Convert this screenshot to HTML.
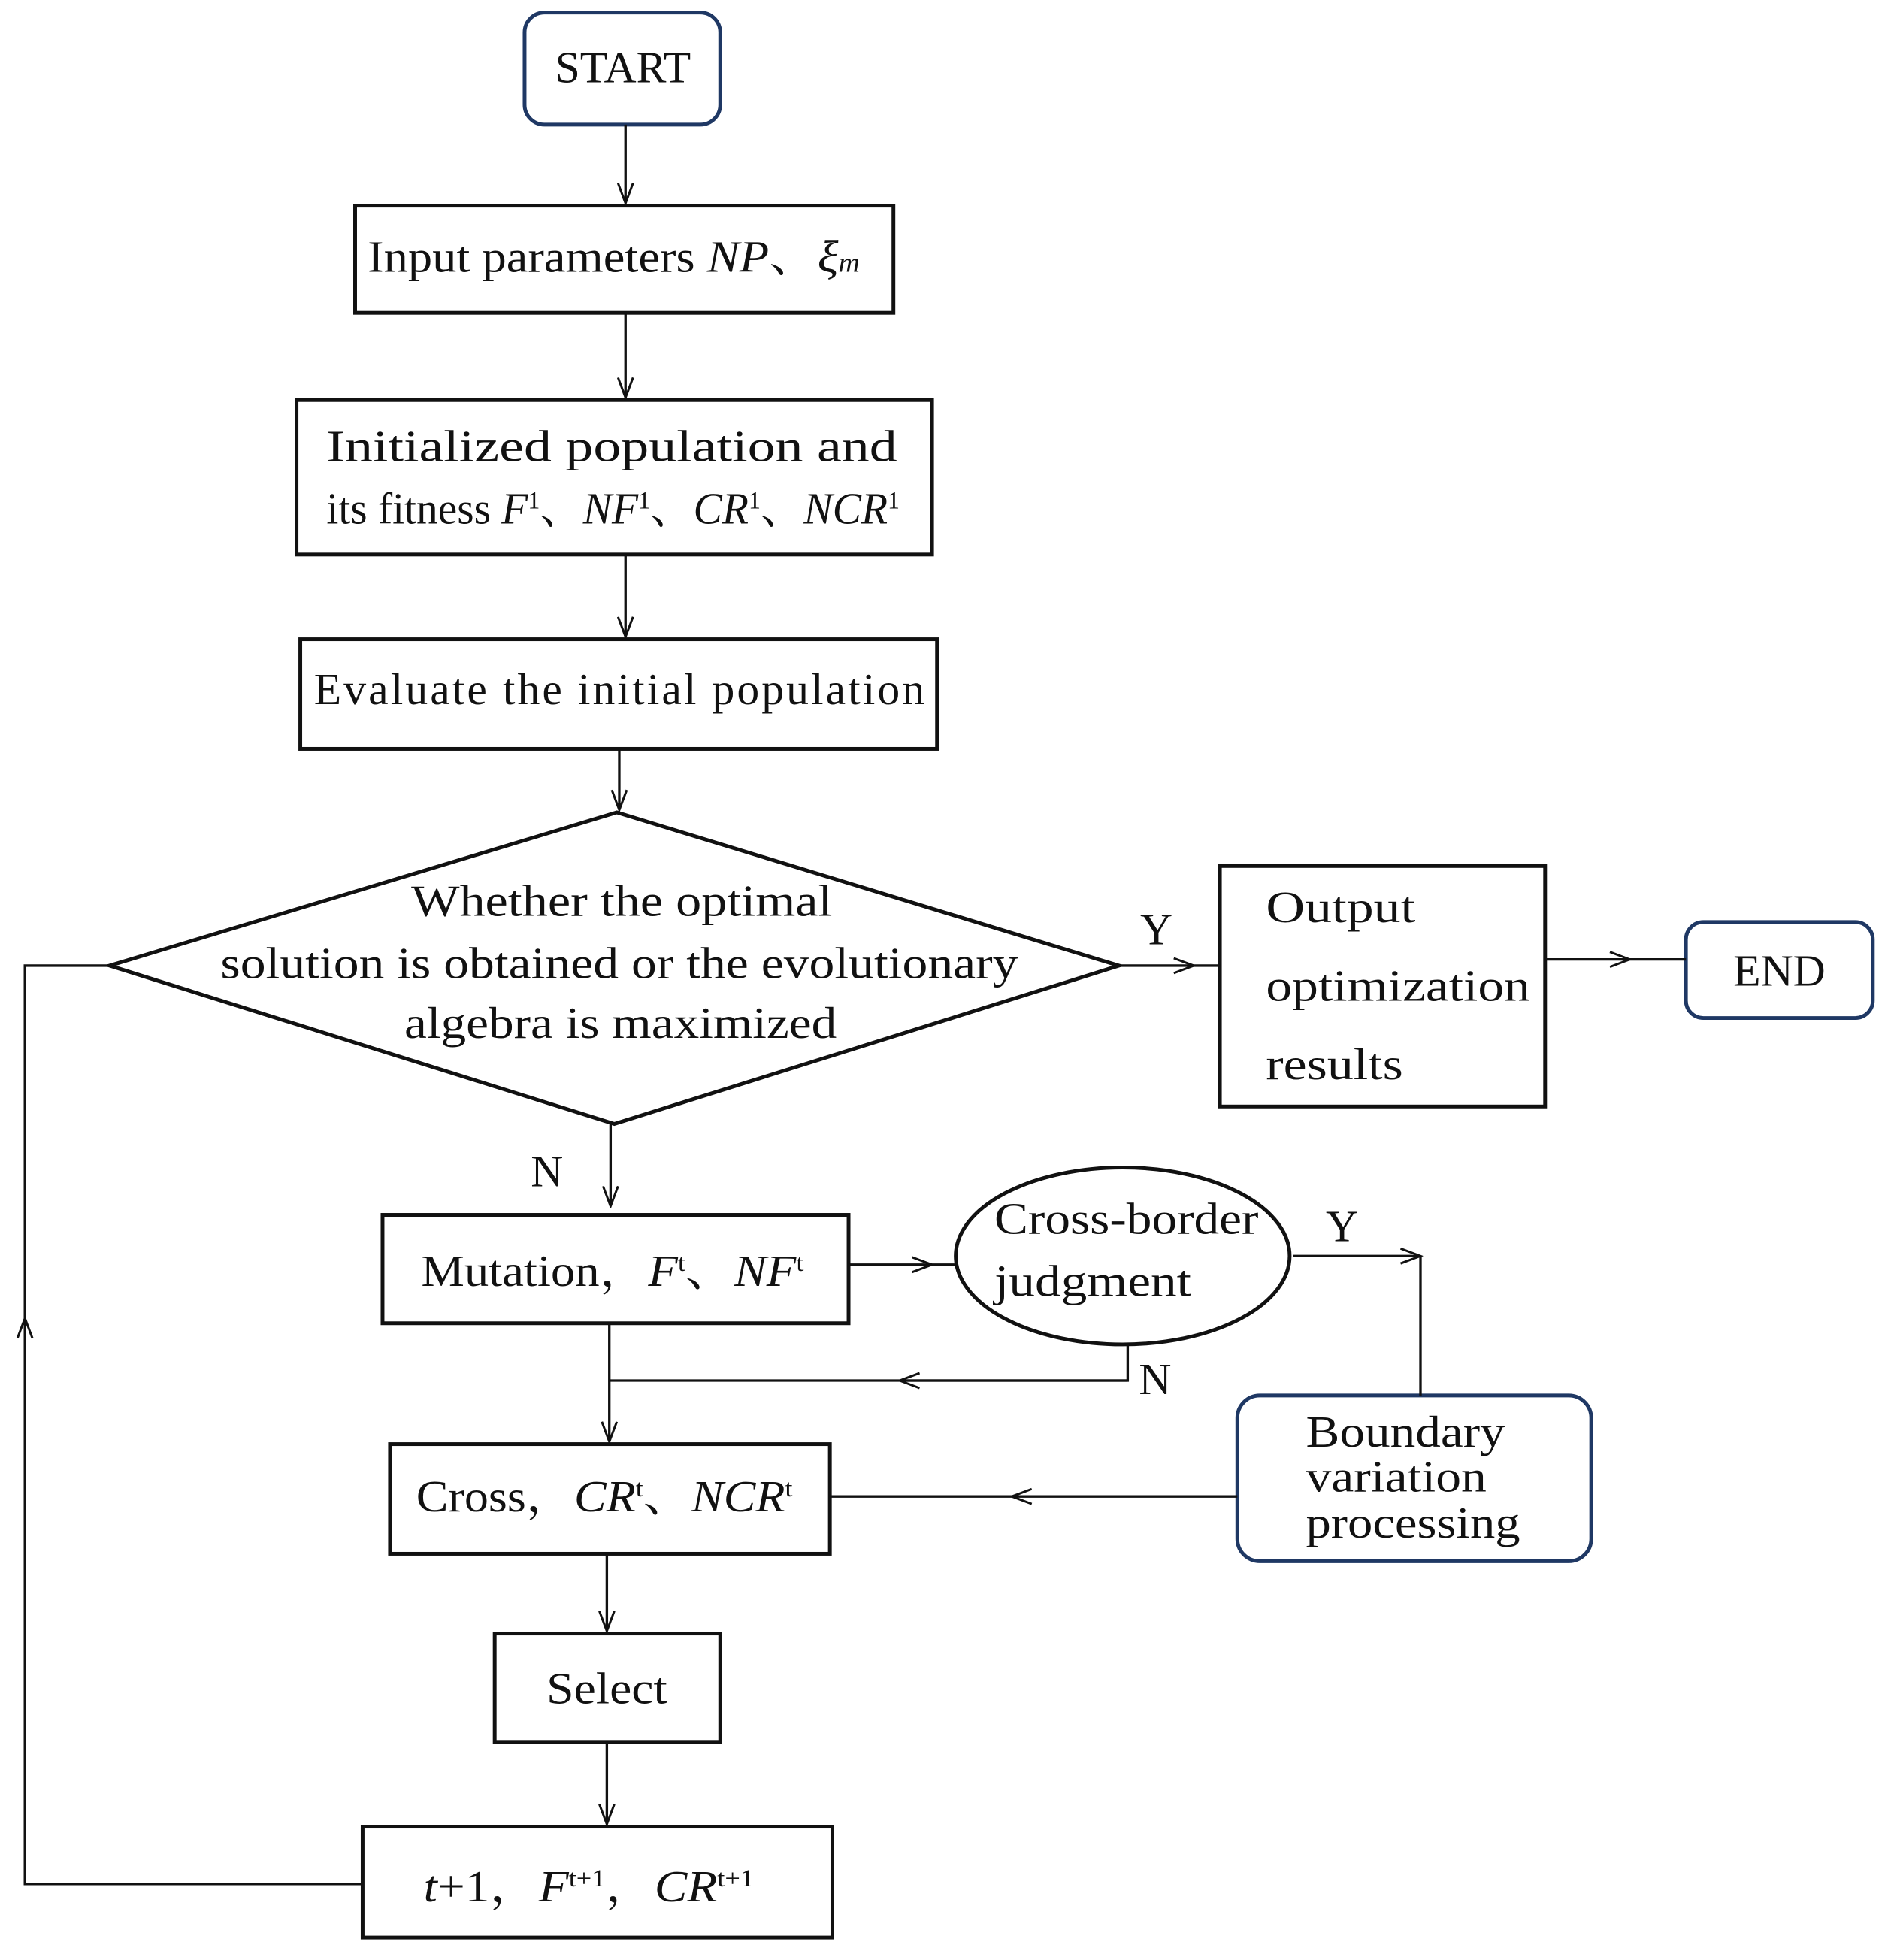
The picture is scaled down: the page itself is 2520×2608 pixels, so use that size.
<!DOCTYPE html>
<html><head><meta charset="utf-8"><style>
html,body{margin:0;padding:0;background:#fff;}
svg{display:block;}
text{font-family:"Liberation Serif","Noto Serif CJK SC",serif;fill:#111;}
</style></head><body>
<svg width="2520" height="2608" viewBox="0 0 1520 1573" xmlns="http://www.w3.org/2000/svg">
<defs>
<marker id="a" markerWidth="20" markerHeight="14" refX="18" refY="7" orient="auto" markerUnits="userSpaceOnUse">
<path d="M2,1 L18,7 L2,13" fill="none" stroke="#111" stroke-width="1.8"/>
</marker>
</defs>
<g fill="none" stroke="#111" stroke-width="3">
<rect x="421" y="10" width="157" height="90" rx="16" stroke="#1f3864"/>
<rect x="285" y="165" width="432" height="86"/>
<rect x="238" y="321" width="510" height="124"/>
<rect x="241" y="513" width="511" height="88"/>
<polygon points="88,775 495,652 898,775 493,902"/>
<rect x="979" y="695" width="261" height="193"/>
<rect x="1353" y="740" width="150" height="77" rx="14" stroke="#1f3864"/>
<rect x="307" y="975" width="374" height="87"/>
<ellipse cx="901" cy="1008" rx="134" ry="71"/>
<rect x="993" y="1120" width="284" height="133" rx="18" stroke="#1f3864"/>
<rect x="313" y="1159" width="353" height="88"/>
<rect x="397" y="1311" width="181" height="87"/>
<rect x="291" y="1466" width="377" height="89"/>
</g>
<g fill="none" stroke="#111" stroke-width="2">
<line x1="502" y1="100" x2="502" y2="163" marker-end="url(#a)"/>
<line x1="502" y1="251" x2="502" y2="319" marker-end="url(#a)"/>
<line x1="502" y1="445" x2="502" y2="511" marker-end="url(#a)"/>
<line x1="497" y1="601" x2="497" y2="650" marker-end="url(#a)"/>
<line x1="898" y1="775" x2="958" y2="775" marker-end="url(#a)"/>
<line x1="958" y1="775" x2="979" y2="775"/>
<line x1="1240" y1="770" x2="1308" y2="770" marker-end="url(#a)"/>
<line x1="1308" y1="770" x2="1353" y2="770"/>
<polyline points="291,1512 20,1512 20,775 88,775"/>
<line x1="20" y1="1200" x2="20" y2="1058" marker-end="url(#a)"/>
<line x1="490" y1="902" x2="490" y2="968" marker-end="url(#a)"/>
<line x1="681" y1="1015" x2="748" y2="1015" marker-end="url(#a)"/>
<line x1="748" y1="1015" x2="767" y2="1015"/>
<line x1="1038" y1="1008" x2="1140" y2="1008" marker-end="url(#a)"/>
<line x1="1140" y1="1008" x2="1140" y2="1120"/>
<polyline points="905,1079 905,1108 489,1108"/>
<line x1="905" y1="1108" x2="722" y2="1108" marker-end="url(#a)"/>
<line x1="489" y1="1062" x2="489" y2="1157" marker-end="url(#a)"/>
<line x1="993" y1="1201" x2="812" y2="1201" marker-end="url(#a)"/>
<line x1="812" y1="1201" x2="666" y2="1201"/>
<line x1="487" y1="1247" x2="487" y2="1309" marker-end="url(#a)"/>
<line x1="487" y1="1398" x2="487" y2="1464" marker-end="url(#a)"/>
</g>
<g font-size="36">
<text x="500" y="66" text-anchor="middle">START</text>
<text x="295" y="218" textLength="395" lengthAdjust="spacingAndGlyphs">Input parameters <tspan font-style="italic">NP</tspan>、<tspan font-style="italic">ξ<tspan font-size="22">m</tspan></tspan></text>
<text x="262" y="370" textLength="458" lengthAdjust="spacingAndGlyphs">Initialized  population  and</text>
<text x="262" y="420" textLength="460" lengthAdjust="spacingAndGlyphs">its fitness <tspan font-style="italic">F</tspan><tspan font-size="20" dy="-12">1</tspan><tspan dy="12">、</tspan><tspan font-style="italic">NF</tspan><tspan font-size="20" dy="-12">1</tspan><tspan dy="12">、</tspan><tspan font-style="italic">CR</tspan><tspan font-size="20" dy="-12">1</tspan><tspan dy="12">、</tspan><tspan font-style="italic">NCR</tspan><tspan font-size="20" dy="-12">1</tspan></text>
<text x="497" y="565" text-anchor="middle" textLength="490" lengthAdjust="spacing">Evaluate the initial population</text>
<text x="499" y="735" text-anchor="middle" textLength="338" lengthAdjust="spacingAndGlyphs">Whether the optimal</text>
<text x="497" y="785" text-anchor="middle" textLength="640" lengthAdjust="spacingAndGlyphs">solution is obtained or the evolutionary</text>
<text x="498" y="833" text-anchor="middle" textLength="347" lengthAdjust="spacingAndGlyphs">algebra is maximized</text>
<text x="915" y="758">Y</text>
<text x="1016" y="740" textLength="120" lengthAdjust="spacingAndGlyphs">Output</text>
<text x="1016" y="803" textLength="212" lengthAdjust="spacingAndGlyphs">optimization</text>
<text x="1016" y="866" textLength="110" lengthAdjust="spacingAndGlyphs">results</text>
<text x="1428" y="791" text-anchor="middle">END</text>
<text x="426" y="952">N</text>
<text x="338" y="1032" textLength="307" lengthAdjust="spacingAndGlyphs">Mutation，<tspan font-style="italic">F</tspan><tspan font-size="20" dy="-12">t</tspan><tspan dy="12">、</tspan><tspan font-style="italic">NF</tspan><tspan font-size="20" dy="-12">t</tspan></text>
<text x="798" y="990" textLength="212" lengthAdjust="spacingAndGlyphs">Cross-border</text>
<text x="798" y="1040" textLength="158" lengthAdjust="spacingAndGlyphs">judgment</text>
<text x="1064" y="996">Y</text>
<text x="914" y="1119">N</text>
<text x="1048" y="1161" textLength="160" lengthAdjust="spacingAndGlyphs">Boundary</text>
<text x="1048" y="1197" textLength="145" lengthAdjust="spacingAndGlyphs">variation</text>
<text x="1048" y="1234" textLength="172" lengthAdjust="spacingAndGlyphs">processing</text>
<text x="334" y="1213" textLength="302" lengthAdjust="spacingAndGlyphs">Cross，<tspan font-style="italic">CR</tspan><tspan font-size="20" dy="-12">t</tspan><tspan dy="12">、</tspan><tspan font-style="italic">NCR</tspan><tspan font-size="20" dy="-12">t</tspan></text>
<text x="487" y="1367" text-anchor="middle" textLength="97" lengthAdjust="spacingAndGlyphs">Select</text>
<text x="340" y="1526" textLength="265" lengthAdjust="spacingAndGlyphs"><tspan font-style="italic">t</tspan>+1，<tspan font-style="italic">F</tspan><tspan font-size="20" dy="-12">t+1</tspan><tspan dy="12">，</tspan><tspan font-style="italic">CR</tspan><tspan font-size="20" dy="-12">t+1</tspan></text>
</g>
</svg>
</body></html>
